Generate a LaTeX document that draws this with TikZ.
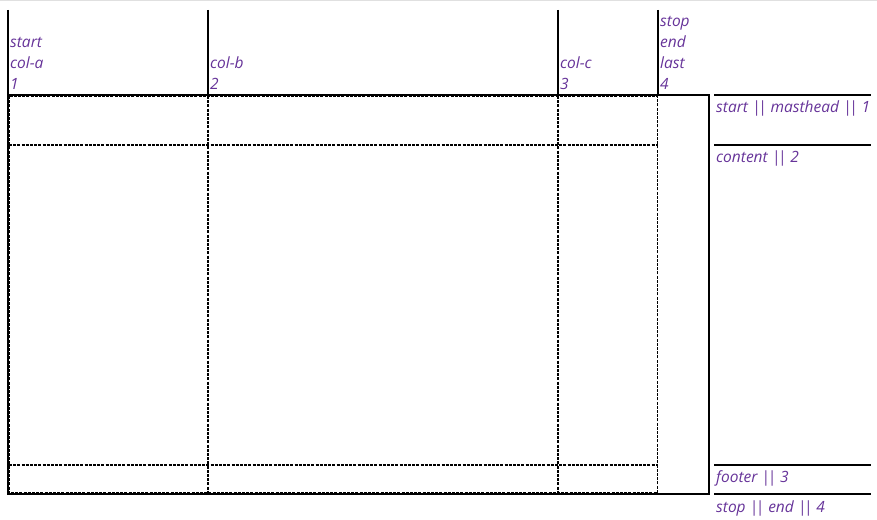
\documentclass[tikz,border=0pt]{standalone}
\usepackage{fontspec}
\setmainfont{Open Sans}
\usetikzlibrary{positioning}
\definecolor{labelpurple}{HTML}{663399}
\newcommand{\bars}{|\kern-2.5pt|}
\begin{document}
\begin{tikzpicture}[x=1pt,y=-1pt,
	cell/.style={line width=1.5pt, dash pattern=on 3pt off 1.2pt},
	inner cell/.style={line width=2.4pt, dash pattern=on 3pt off 1.2pt},
	edge/.style={line width=1.2pt},
	lbl/.style={text=labelpurple, font=\itshape\fontsize{15.5}{21}\selectfont, inner sep=0pt, align=left}]
		\useasboundingbox (0,0) rectangle (877,519);
		\draw[black!12, line width=1pt] (0,1) -- (877,1);

		\foreach \x in {8,208,558,658}
			\draw[edge] (\x,10) -- (\x,95);

		% dotted cell borders
		\draw[cell] (9,96) rectangle (657.5,493);
		\foreach \x in {208,558}
			\draw[inner cell] (\x,96) -- (\x,493);
		\foreach \y in {145,465}
			\draw[inner cell] (9,\y) -- (657.5,\y);

		\draw[edge] (8,95) rectangle (709,494);

		\foreach \y in {95,145,465,494}
			\draw[edge] (714,\y) -- (871,\y);

		\node[lbl, anchor=south west] (col-a) at (10,90) {start\\col-a\\1};
		\node[lbl, anchor=south west] (col-b) at (210,90) {col-b\\2};
		\node[lbl, anchor=south west] (col-c) at (560,90) {col-c\\3};
		\node[lbl, anchor=south west] (col-d) at (660,90) {stop\\end\\last\\4};

		\node[lbl, anchor=base west] (row-a) at (716,112) {start \bars{} masthead \bars{} 1};
		\node[lbl, anchor=base west] (row-b) at (716,162) {content \bars{} 2};
		\node[lbl, anchor=base west] (row-c) at (716,482) {footer \bars{} 3};
		\node[lbl, anchor=base west] (row-d) at (716,512) {stop \bars{} end \bars{} 4};
\end{tikzpicture}
\end{document}
